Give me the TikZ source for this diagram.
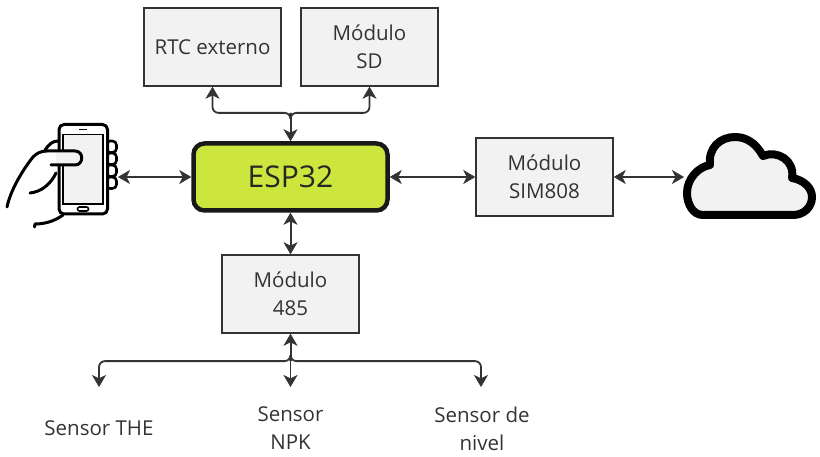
\documentclass[tikz,border=0pt]{standalone}
\usepackage{fontspec}
\setmainfont{Open Sans}
\usetikzlibrary{arrows.meta}
\definecolor{boxfill}{HTML}{F2F2F2}
\definecolor{ink}{HTML}{333333}
\definecolor{lime}{HTML}{CDE63D}
\tikzset{
  tip/.tip={Stealth[length=12pt,width=14pt,inset=3.5pt,line width=0.6pt]},
  modbox/.style={draw=ink,line width=1.5pt,fill=boxfill,minimum width=137pt,minimum height=78pt,inner sep=0pt,align=center,text=ink,font=\fontsize{20.5}{28}\selectfont},
  espbox/.style={draw=black!90,line width=4.5pt,fill=lime,rounded corners=11pt,minimum width=194pt,minimum height=67pt,inner sep=0pt,text=black!85,font=\fontsize{30}{34}\selectfont},
  sensor/.style={inner sep=0pt,align=center,text=ink,font=\fontsize{20.5}{28}\selectfont},
  link/.style={draw=ink,line width=2pt,tip-tip},
  branch/.style={draw=ink,line width=1.8pt,rounded corners=6pt,-tip},
  icon/.style={draw=black,line width=3pt,line cap=round,line join=round},
}
\begin{document}
\begin{tikzpicture}[x=1pt,y=-1pt]
\useasboundingbox (0,0) rectangle (820,457);
% nodes
\node[modbox] (rtc) at (212.5,47) {RTC externo};
\node[modbox] (sd) at (369.5,47) {Módulo\\SD};
\node[espbox] (esp) at (290.5,177) {ESP32};
\node[modbox] (sim) at (544.5,177) {Módulo\\SIM808};
\node[modbox] (m485) at (290.5,294) {Módulo\\485};
\node[sensor] (the) at (99,428.5) {Sensor THE};
\node[sensor] (npk) at (290.5,428.5) {Sensor\\NPK};
\node[sensor] (niv) at (482,428.5) {Sensor de\\nivel};
\coordinate (phone) at (118,177);
\coordinate (cloud) at (684,177);
\coordinate (top) at (290.5,113);
\coordinate (bus) at (290.5,361);
\coordinate (endthe) at (99,387);
\coordinate (endnpk) at (290.5,387);
\coordinate (endniv) at (481,387);
% cloud
\draw[draw=black,line width=8pt,fill=boxfill,line join=round]
  (703,215) .. controls (693,215) and (687,204) .. (687,193)
  .. controls (687,179) and (698,167) .. (710,165)
  .. controls (708,148) and (720,137) .. (735,137)
  .. controls (748,137) and (757,145) .. (763,156)
  .. controls (777,150) and (795,160) .. (792,178)
  .. controls (804,180) and (812,188) .. (812,197)
  .. controls (812,207) and (804,215) .. (793,215) -- cycle;
% phone
\draw[icon] (58,141) .. controls (53,141) and (49,144) .. (45,150);
\foreach \yy in {141,153,165,177}{
  \draw[icon,line width=2.6pt,fill=white,rounded corners=4pt] (106,\yy) rectangle (116.5,\yy+11.5);
}
\draw[icon,fill=white,rounded corners=5pt] (59,124.5) rectangle (107.5,214);
\draw[black,line width=1.8pt,fill=boxfill] (63,134.5) rectangle (103,204);
\draw[black,line width=1.6pt] (79,129.5) -- (87,129.5);
\draw[black,line width=1.6pt,rounded corners=2pt] (77.5,207) rectangle (88.5,211);
\fill[boxfill] (56,151) -- (75,151) .. controls (84,151) and (84,165) .. (75,165) -- (56,165) -- cycle;
\draw[icon] (7,207) .. controls (11,188) and (25,167) .. (33,157)
  .. controls (37,153) and (41,151) .. (47,151)
  -- (75,151) .. controls (84,151) and (84,165) .. (75,165) -- (51,165);
\draw[icon] (30,193) .. controls (41,192) and (51,184) .. (56,173);
\draw[icon] (34.5,227) -- (35,224) .. controls (45,224) and (55,221) .. (63,215);
% connectors
\draw[link] (phone) -- (esp.west);
\draw[link] (esp.east) -- (sim.west);
\draw[link] (sim.east) -- (cloud);
\draw[link] (esp.south) -- (m485.north);
\draw[branch] (top) -- +(0,-0.1) -| (rtc.south);
\draw[branch] (top) -- +(0,-0.1) -| (sd.south);
\draw[draw=ink,line width=2pt,-tip] (top) -- (esp.north);
\draw[branch] (bus) -- +(0,0.1) -| (endthe);
\draw[branch] (bus) -- +(0,0.1) -| (endniv);
\draw[branch] (bus) -- (endnpk);
\draw[draw=ink,line width=2pt,-tip] (bus) -- (m485.south);
\end{tikzpicture}
\end{document}
